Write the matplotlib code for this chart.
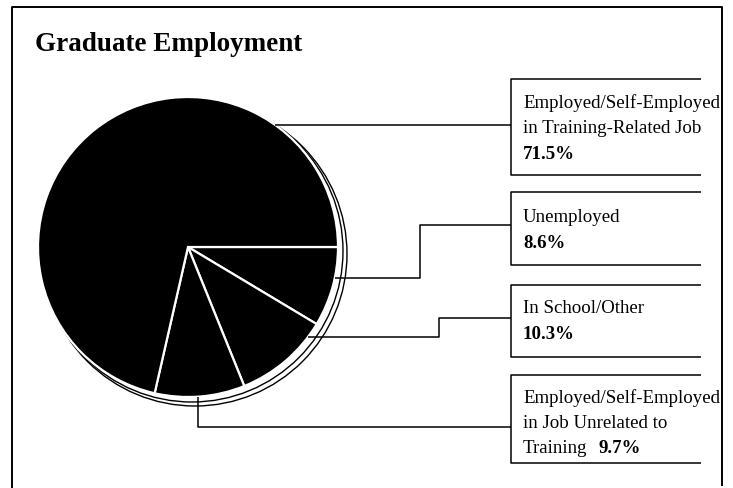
import numpy as np
import matplotlib
matplotlib.use("Agg")
import matplotlib.pyplot as plt
from matplotlib.patches import Circle

# Graduate employment outcomes (percent of graduates)
categories = [
    "Unemployed",
    "In School/Other",
    "Employed/Self-Employed in Job Unrelated to Training",
    "Employed/Self-Employed in Training-Related Job",
]
shares = [8.6, 10.3, 9.7, 71.5]

title = "Graduate Employment"

plt.rcParams["font.family"] = ["Liberation Serif", "DejaVu Serif"]

W, H = 733, 488
fig = plt.figure(figsize=(W / 100, H / 100), dpi=100)
ax = fig.add_axes([0, 0, 1, 1])

# pie geometry (canvas pixel units, y grows downward)
cx, cy, r = 188, 247, 150

# offset outline arcs forming the drop shadow
for dx, dy, rr in [(4, 4, 151), (7, 7, 152)]:
    ax.add_patch(Circle((cx + dx, cy + dy), rr, fill=False, edgecolor="black",
                        linewidth=1.0, zorder=0.5))

ax.pie(shares, startangle=0, counterclock=True, center=(cx, cy), radius=r,
       colors=["black"] * len(shares),
       wedgeprops=dict(edgecolor="white", linewidth=1.6))

ax.set_xlim(0, W)
ax.set_ylim(H, 0)
ax.set_aspect("equal")
ax.axis("off")

line_kw = dict(color="black", linewidth=1.1, solid_capstyle="butt")

# outer frame (open at the bottom)
ax.plot([12, 12, 722, 722], [H + 5, 7, 7, 485], color="black", linewidth=1.4)

ax.text(35, 51, title, fontsize=19.5, fontweight="bold", ha="left", va="baseline")

# label boxes: (top, bottom), text lines (text, bold, baseline)
box_left, box_right, text_x = 511, 701, 523
boxes = [
    ((79, 175), [("Employed/Self-Employed", False, 108),
                 ("in Training-Related Job", False, 133),
                 (f"{shares[3]}%", True, 159)]),
    ((192, 265), [("Unemployed", False, 222),
                  (f"{shares[0]}%", True, 248)]),
    ((285, 357), [("In School/Other", False, 313),
                  (f"{shares[1]}%", True, 339)]),
    ((375, 463), [("Employed/Self-Employed", False, 403),
                  ("in Job Unrelated to", False, 428),
                  ("Training", False, 453)]),
]
fs = 13.6
for (top, bot), lines in boxes:
    ax.plot([box_right, box_left, box_left, box_right], [top, top, bot, bot], **line_kw)
    for txt, bold, base in lines:
        t = ax.text(text_x, base, txt, fontsize=fs, ha="left", va="baseline",
                    fontweight="bold" if bold else "normal")
last_line = t
ax.annotate(f"{shares[2]}%", xy=(1, 453), xycoords=(last_line, "data"),
            xytext=(8, 0), textcoords="offset points", fontsize=fs,
            fontweight="bold", ha="left", va="baseline")


def edge(angle_deg):
    a = np.deg2rad(angle_deg)
    return cx + r * np.cos(a), cy + r * np.sin(a)


# leader lines from the pie edge to each box
x0, y0 = edge(-54.5)
ax.plot([x0, box_left], [y0, y0], **line_kw)

x0, y0 = edge(12)
ax.plot([x0, 420, 420, box_left], [y0, y0, 225, 225], **line_kw)

x0, y0 = edge(37)
ax.plot([x0, 439, 439, box_left], [y0, y0, 318, 318], **line_kw)

x0, y0 = edge(86)
ax.plot([x0, x0, box_left], [y0, 427, 427], **line_kw)

fig.savefig("out.png", dpi=100)
